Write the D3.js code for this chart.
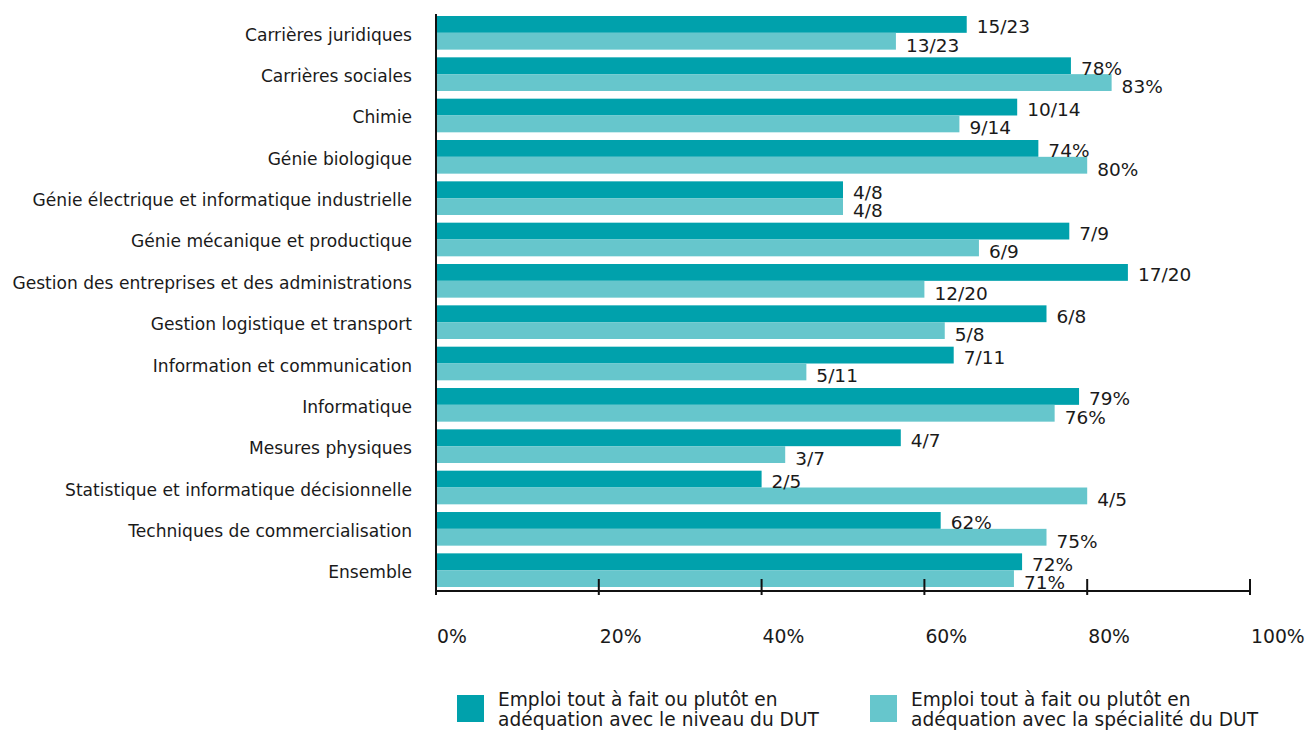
<!DOCTYPE html>
<meta charset="utf-8">
<head>
<style>
body { margin: 0; background: #fff; }
text { font-family: 'DejaVu Sans', Verdana, sans-serif; fill: #1a1a1a; }
.cat { font-size: 17.1px; }
.val { font-size: 18.5px; }
.tick-label { font-size: 18.8px; }
.legend text { font-size: 18.6px; }
.axis line, .axis path { stroke: #111; stroke-width: 2px; }
</style>
<title>Adéquation emploi / DUT</title>
</head>
<body>
<svg id="chart" width="1309" height="731"></svg>
<script src="https://d3js.org/d3.v7.min.js"></script>
<script>
// categories (spécialités de DUT)
var categories = [
  "Carrières juridiques",
  "Carrières sociales",
  "Chimie",
  "Génie biologique",
  "Génie électrique et informatique industrielle",
  "Génie mécanique et productique",
  "Gestion des entreprises et des administrations",
  "Gestion logistique et transport",
  "Information et communication",
  "Informatique",
  "Mesures physiques",
  "Statistique et informatique décisionnelle",
  "Techniques de commercialisation",
  "Ensemble"
];

// % emploi en adéquation avec le niveau du DUT
var niveauValues = [65.2, 78, 71.4, 74, 50, 77.8, 85, 75, 63.6, 79, 57.1, 40, 62, 72];
var niveauLabels = ["15/23", "78%", "10/14", "74%", "4/8", "7/9", "17/20", "6/8", "7/11", "79%", "4/7", "2/5", "62%", "72%"];

// % emploi en adéquation avec la spécialité du DUT
var specialiteValues = [56.5, 83, 64.3, 80, 50, 66.7, 60, 62.5, 45.5, 76, 42.9, 80, 75, 71];
var specialiteLabels = ["13/23", "83%", "9/14", "80%", "4/8", "6/9", "12/20", "5/8", "5/11", "76%", "3/7", "4/5", "75%", "71%"];

var tickValues = [0, 20, 40, 60, 80, 100];

var legendLabels = [
  ["Emploi tout à fait ou plutôt en", "adéquation avec le niveau du DUT"],
  ["Emploi tout à fait ou plutôt en", "adéquation avec la spécialité du DUT"]
];

var colors = ["#00a1ac", "#66c6cc"];

var svg = d3.select("#chart");

var x0 = 436, x1 = 1250, axisY = 591;

var x = d3.scaleLinear().domain([0, 100]).range([x0, x1]);

var y = d3.scaleBand()
    .domain(categories)
    .range([16, 587])
    .paddingInner(0.186)
    .paddingOuter(0);

var sub = d3.scaleBand()
    .domain([0, 1])
    .range([0, y.bandwidth()]);

var rows = categories.map(function(c, i) {
  return {
    cat: c,
    vals: [
      {k: 0, v: niveauValues[i], label: niveauLabels[i]},
      {k: 1, v: specialiteValues[i], label: specialiteLabels[i]}
    ]
  };
});

var groups = svg.append("g").selectAll("g")
  .data(rows)
  .enter().append("g")
    .attr("transform", function(d) { return "translate(0," + y(d.cat) + ")"; });

groups.selectAll("rect")
  .data(function(d) { return d.vals; })
  .enter().append("rect")
    .attr("x", x(0))
    .attr("y", function(d) { return sub(d.k); })
    .attr("width", function(d) { return x(d.v) - x(0); })
    .attr("height", sub.bandwidth())
    .attr("fill", function(d) { return colors[d.k]; });

// value labels, light ones sit a little lower
groups.selectAll("text.val")
  .data(function(d) { return d.vals; })
  .enter().append("text")
    .attr("class", "val")
    .attr("x", function(d) { return x(d.v) + 10; })
    .attr("y", function(d) { return sub(d.k) + sub.bandwidth() + (d.k ? 2 : 0.5); })
    .text(function(d) { return d.label; });

// category labels
svg.append("g").selectAll("text")
  .data(categories)
  .enter().append("text")
    .attr("class", "cat")
    .attr("text-anchor", "end")
    .attr("x", 412)
    .attr("y", function(d) { return y(d) + y.bandwidth() / 2 + 8; })
    .text(function(d) { return d; });

// vertical axis line
svg.append("line")
  .attr("x1", x0).attr("x2", x0)
  .attr("y1", 14).attr("y2", axisY + 1)
  .attr("stroke", "#111").attr("stroke-width", 2);

// horizontal axis
var ax = svg.append("g").attr("class", "axis");
ax.append("line")
  .attr("x1", x0).attr("x2", x1)
  .attr("y1", axisY).attr("y2", axisY);
ax.selectAll("line.tick")
  .data(tickValues)
  .enter().append("line")
    .attr("x1", function(d) { return x(d); })
    .attr("x2", function(d) { return x(d); })
    .attr("y1", axisY - 12)
    .attr("y2", axisY + 4);
svg.append("g").selectAll("text")
  .data(tickValues)
  .enter().append("text")
    .attr("class", "tick-label")
    .attr("x", function(d) { return x(d) + 1; })
    .attr("y", 643)
    .text(function(d) { return d + "%"; });

// legend
var legendX = [457, 870];
var legend = svg.append("g").attr("class", "legend")
  .selectAll("g")
  .data(legendLabels)
  .enter().append("g")
    .attr("transform", function(d, i) { return "translate(" + legendX[i] + ",695)"; });
legend.append("rect")
  .attr("width", 27).attr("height", 27)
  .attr("fill", function(d, i) { return colors[i]; });
legend.append("text")
  .attr("x", 41).attr("y", 11)
  .text(function(d) { return d[0]; });
legend.append("text")
  .attr("x", 41).attr("y", 31)
  .text(function(d) { return d[1]; });
</script>
</body>
